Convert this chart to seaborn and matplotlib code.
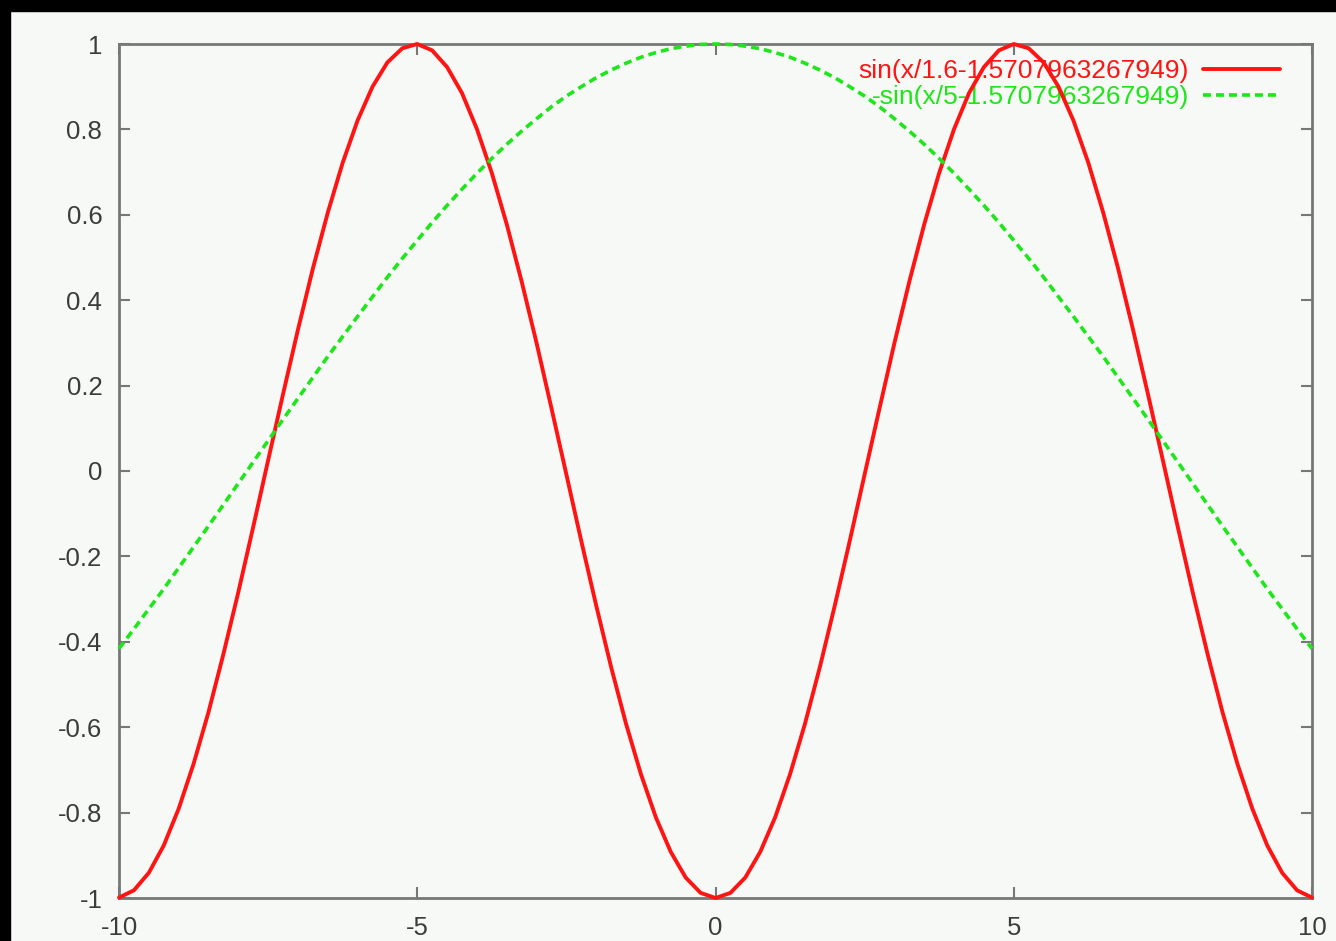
import numpy as np
import pandas as pd
import matplotlib
matplotlib.use('Agg')
import matplotlib.pyplot as plt
from matplotlib.patches import Rectangle
import seaborn as sns

# sample grid used for both curves (x from -10 to 10, step 0.25)
x_vals = np.linspace(-10, 10, 81)

# red curve: sin(x/1.6-1.5707963267949)
red_vals = [-0.999, -0.982, -0.941, -0.877, -0.791, -0.686, -0.565, -0.429, -0.284, -0.131,
            0.025, 0.180, 0.331, 0.474, 0.605, 0.722, 0.821, 0.900, 0.957, 0.990,
            1.000, 0.985, 0.946, 0.885, 0.801, 0.698, 0.578, 0.444, 0.300, 0.147,
            -0.008, -0.164, -0.315, -0.459, -0.592, -0.710, -0.811, -0.892, -0.952, -0.988,
            -1.000,
            -0.988, -0.952, -0.892, -0.811, -0.710, -0.592, -0.459, -0.315, -0.164, -0.008,
            0.147, 0.300, 0.444, 0.578, 0.698, 0.801, 0.885, 0.946, 0.985, 1.000,
            0.990, 0.957, 0.900, 0.821, 0.722, 0.605, 0.474, 0.331, 0.180, 0.025,
            -0.131, -0.284, -0.429, -0.565, -0.686, -0.791, -0.877, -0.941, -0.982, -0.999]

# green curve: -sin(x/5-1.5707963267949)
green_vals = [-0.416, -0.370, -0.323, -0.276, -0.227, -0.178, -0.129, -0.079, -0.029, 0.021,
              0.071, 0.121, 0.170, 0.219, 0.268, 0.315, 0.362, 0.408, 0.454, 0.498,
              0.540, 0.582, 0.622, 0.660, 0.697, 0.732, 0.765, 0.796, 0.825, 0.853,
              0.878, 0.900, 0.921, 0.939, 0.955, 0.969, 0.980, 0.989, 0.995, 0.999,
              1.000,
              0.999, 0.995, 0.989, 0.980, 0.969, 0.955, 0.939, 0.921, 0.900, 0.878,
              0.853, 0.825, 0.796, 0.765, 0.732, 0.697, 0.660, 0.622, 0.582, 0.540,
              0.498, 0.454, 0.408, 0.362, 0.315, 0.268, 0.219, 0.170, 0.121, 0.071,
              0.021, -0.029, -0.079, -0.129, -0.178, -0.227, -0.276, -0.323, -0.370, -0.416]

labels = ['sin(x/1.6-1.5707963267949)', '-sin(x/5-1.5707963267949)']

x_ticks = [-10, -5, 0, 5, 10]
x_tick_labels = ['-10', '-5', '0', '5', '10']
y_ticks = [-1, -0.8, -0.6, -0.4, -0.2, 0, 0.2, 0.4, 0.6, 0.8, 1]
y_tick_labels = ['-1', '-0.8', '-0.6', '-0.4', '-0.2', '0', '0.2', '0.4', '0.6', '0.8', '1']

df = pd.DataFrame({'x': x_vals, 'red': red_vals, 'green': green_vals})

sns.set_theme(style='ticks')
plt.rcParams['font.family'] = ['Liberation Sans', 'DejaVu Sans']
plt.rcParams['axes.unicode_minus'] = False

bg = '#f6f9f6'
fig = plt.figure(figsize=(13.36, 9.41), dpi=100, facecolor=bg)
ax = fig.add_axes([119 / 1336, 1 - 898 / 941, (1312 - 119) / 1336, (898 - 44) / 941])
ax.set_facecolor(bg)

sns.lineplot(data=df, x='x', y='red', ax=ax, color='#ff1414', linewidth=2.8,
             label=labels[0], clip_on=False, zorder=3)
sns.lineplot(data=df, x='x', y='green', ax=ax, color='#1ee61a', linewidth=2.6,
             linestyle=(0, (2.2, 1.4)), label=labels[1], clip_on=False, zorder=3)

ax.set_xlim(-10, 10)
ax.set_ylim(-1, 1)
ax.set_xticks(x_ticks)
ax.set_xticklabels(x_tick_labels)
ax.set_yticks(y_ticks)
ax.set_yticklabels(y_tick_labels)
ax.set_xlabel('')
ax.set_ylabel('')

for s in ax.spines.values():
    s.set_color('#777777')
    s.set_linewidth(2)
ax.tick_params(direction='in', top=True, right=True, length=8, width=1.5,
               color='#777777', labelsize=18.5, labelcolor='#3c3c3c')
ax.tick_params(axis='x', pad=13)
ax.tick_params(axis='y', pad=12)

leg = ax.legend(loc='upper right', bbox_to_anchor=(0.9732, 0.982), frameon=False,
                markerfirst=False, fontsize=19, handlelength=2.9, handletextpad=0.55,
                labelspacing=0.08, borderaxespad=0, borderpad=0, labelcolor='linecolor')
leg.set_zorder(1)

# black strips from the screenshot border
fig.patches.append(Rectangle((0, 1 - 11 / 941), 1, 11 / 941, transform=fig.transFigure,
                             color='black', zorder=10))
fig.patches.append(Rectangle((0, 0), 10 / 1336, 1, transform=fig.transFigure,
                             color='black', zorder=10))

fig.savefig('out.png', dpi=100, facecolor=bg)
